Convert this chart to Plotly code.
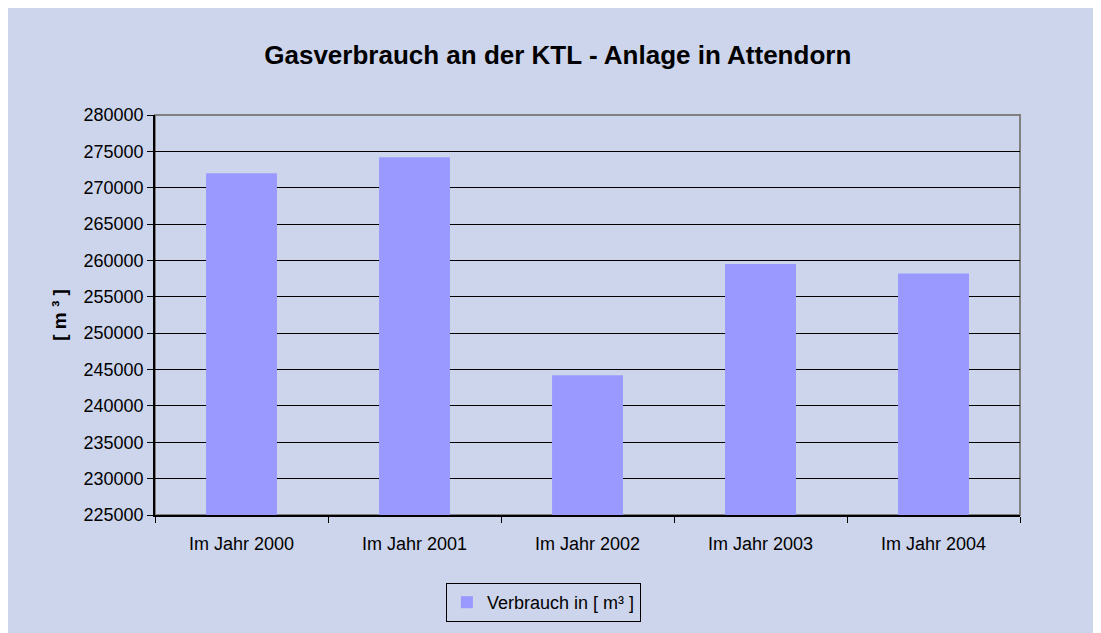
import plotly.graph_objects as go

# Data
years = ['Im Jahr 2000', 'Im Jahr 2001', 'Im Jahr 2002', 'Im Jahr 2003', 'Im Jahr 2004']
verbrauch = [272000, 274200, 244200, 259500, 258200]
y_ticks = list(range(225000, 280001, 5000))

bg = '#cdd5ec'
font = 'Liberation Sans, Arial, sans-serif'

fig = go.Figure()
fig.add_trace(go.Bar(x=years, y=verbrauch, name='Verbrauch in [ m³ ]',
                     marker=dict(color='#9999ff', line=dict(width=0))))

# gray frame around the plot area (top and right edges show gray)
fig.add_shape(type='rect', xref='paper', yref='paper', x0=0, x1=1, y0=0, y1=1,
              line=dict(color='#808080', width=2), layer='below')

fig.update_layout(
    width=1093, height=625,
    margin=dict(l=147, r=81, t=107, b=118, autoexpand=False),
    paper_bgcolor=bg, plot_bgcolor=bg,
    font=dict(family=font, size=18, color='#000000'),
    title=dict(text='<b>Gasverbrauch an der KTL - Anlage in Attendorn</b>',
               x=0.503, xanchor='center', y=0.925, yanchor='middle',
               font=dict(family=font, size=26, color='#000000')),
    bargap=0.59,
    showlegend=True,
    legend=dict(orientation='h', x=0.449, xanchor='center', y=-0.17, yanchor='top',
                bgcolor='rgba(0,0,0,0)', bordercolor='#000000', borderwidth=1,
                font=dict(size=18), itemsizing='constant'),
)
fig.update_xaxes(showline=True, linecolor='#000000', linewidth=1.5,
                 ticks='outside', ticklen=6, tickcolor='#000000', tickson='boundaries',
                 ticklabelstandoff=12,
                 showgrid=False, tickfont=dict(size=18))
fig.update_yaxes(range=[225000, 280000], tickvals=y_ticks, ticktext=[str(v) for v in y_ticks],
                 showline=True, linecolor='#000000', linewidth=1.5,
                 ticks='outside', ticklen=6, tickcolor='#000000',
                 showgrid=True, gridcolor='#000000', gridwidth=1, zeroline=False,
                 tickfont=dict(size=18),
                 title=dict(text='<b>[ m ³ ]</b>', standoff=12, font=dict(size=19)))

fig.write_html('out.html')
